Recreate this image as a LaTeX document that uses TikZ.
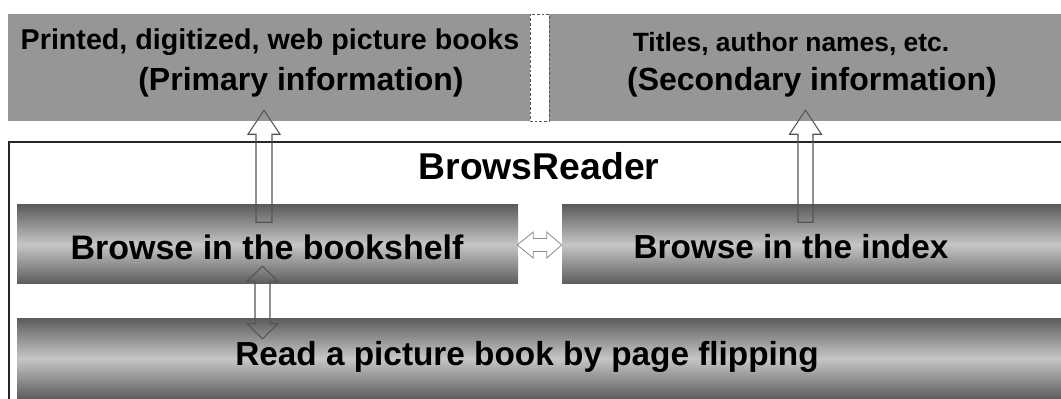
\documentclass[tikz,border=0pt]{standalone}
\usepackage{fontspec}
\setmainfont{Liberation Sans}
\usetikzlibrary{calc,fit}
\definecolor{topgray}{HTML}{969696}
\definecolor{shdark}{HTML}{5C5C5C}
\definecolor{shlight}{HTML}{C6C6C6}
\definecolor{arrowline}{HTML}{555555}
\tikzset{
  topbox/.style={inner sep=0pt, fill=topgray, draw=none},
  cylbox/.style={inner sep=0pt, draw=none, top color=shdark, bottom color=shdark, middle color=shlight},
  hollow/.style={draw=arrowline, line width=0.8pt, line join=miter},
  txtA/.style={inner sep=0pt, font=\bfseries\fontsize{21.5pt}{24pt}\selectfont},
  txtB/.style={inner sep=0pt, font=\bfseries\fontsize{24pt}{27pt}\selectfont},
  txtC/.style={inner sep=0pt, font=\bfseries\fontsize{25pt}{28pt}\selectfont},
}
\begin{document}
\begin{tikzpicture}[x=0.75pt,y=-0.75pt]
\useasboundingbox (0,0) rectangle (1061,399);
\fill[white] (0,0) rectangle (1061,399);
% top boxes
\node[topbox, fit={(8,14) (530,121)}] (prim) {};
\node[topbox, fit={(549,14) (1061,121)}] (sec) {};
\node[fit={(530,14) (549,121)}, inner sep=0pt, fill=white, draw=arrowline, line width=0.6pt, dash pattern=on 2pt off 1.5pt] (gap) {};
\node[txtA] (primA) at (270,42) {Printed, digitized, web picture books};
\node[txtB] (primB) at (301,82) {(Primary information)};
\node[txtA, font=\bfseries\fontsize{19.8pt}{22pt}\selectfont] (secA) at (791,44) {Titles, author names, etc.};
\node[txtB] (secB) at (812,82) {(Secondary information)};
% frame
\coordinate (frbl) at (9,405);
\coordinate (frtr) at (1066,142);
\draw[line width=1.2pt, color=black!85] (frbl) |- (frtr);
\node[inner sep=0pt, font=\bfseries\fontsize{28pt}{31pt}\selectfont] (title) at (539,166) {BrowsReader};
% gradient boxes
\node[cylbox, fit={(17,205) (518,284)}] (shelf) {};
\node[cylbox, fit={(562,205) (1061,284)}] (index) {};
\node[cylbox, fit={(17,318) (1061,399)}] (read) {};
\node[txtC, font=\bfseries\fontsize{25.5pt}{28pt}\selectfont] (shelfT) at (267,247) {Browse in the bookshelf};
\node[txtC] (indexT) at (791,247) {Browse in the index};
\node[txtC] (readT) at (527,357) {Read a picture book by page flipping};
% up arrow: shelf -> prim
\coordinate (a1) at ($(prim.south -| shelf.north)+(-3.5,-11)$);
\draw[hollow] (a1) -- ++(16,24) -- ++(-8,0) -- ++(0,88) -- ++(-16,0) -- ++(0,-88) -- ++(-8,0) -- cycle;
% up arrow: index -> sec
\coordinate (a2) at ($(sec.south)+(0.5,-11)$);
\draw[hollow] (a2) -- ++(16,24) -- ++(-8.5,0) -- ++(0,88) -- ++(-15,0) -- ++(0,-88) -- ++(-8.5,0) -- cycle;
% horizontal double arrow: shelf <-> index
\coordinate (hl) at ($(shelf.east)+(-1,0.5)$);
\coordinate (hr) at ($(index.west)+(0,0.5)$);
\draw[hollow, line width=0.6pt, draw=black!45] (hl) -- ($(hl)+(16,-13)$) -- ($(hl)+(16,-6.5)$) -- ($(hr)+(-15,-6.5)$) -- ($(hr)+(-15,-13)$) -- (hr) -- ($(hr)+(-15,13)$) -- ($(hr)+(-15,6.5)$) -- ($(hl)+(16,6.5)$) -- ($(hl)+(16,13)$) -- cycle;
% vertical double arrow: shelf <-> read
\coordinate (vt) at ($(shelf.south)+(-5,-18)$);
\coordinate (vb) at ($(vt |- read.north)+(0,21)$);
\draw[hollow] (vt) -- ($(vt)+(15.5,15)$) -- ($(vt)+(7.5,15)$) -- ($(vb)+(7.5,-15)$) -- ($(vb)+(15.5,-15)$) -- (vb) -- ($(vb)+(-15.5,-15)$) -- ($(vb)+(-7.5,-15)$) -- ($(vt)+(-7.5,15)$) -- ($(vt)+(-15.5,15)$) -- cycle;
\end{tikzpicture}
\end{document}
